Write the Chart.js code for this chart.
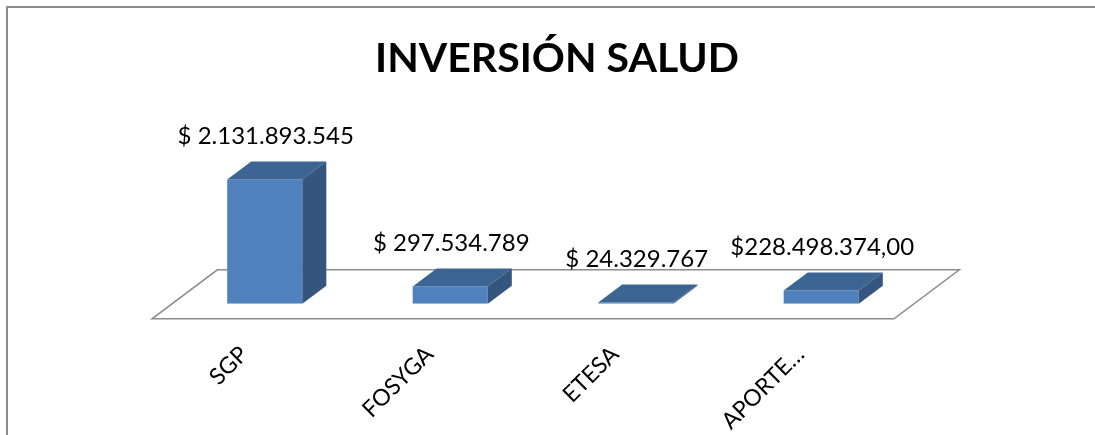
<!DOCTYPE html>
<html>
<head>
<meta charset="utf-8">
<script src="https://cdn.jsdelivr.net/npm/chart.js@4.4.1/dist/chart.umd.min.js"></script>
<style>
  html, body { margin: 0; padding: 0; background: #fff; }
  #wrap { position: relative; width: 1095px; height: 435px; overflow: hidden; }
  #frame { position: absolute; left: 6px; top: 6px; width: 1200px; height: 600px;
           border-top: 2px solid #8c8c8c; border-left: 2px solid #8c8c8c; }
  canvas { position: absolute; left: 0; top: 0; }
</style>
</head>
<body>
<div id="wrap">
  <div id="frame"></div>
  <canvas id="chart" width="1095" height="435"></canvas>
</div>
<script>
// datos del grafico
const titulo = 'INVERSIÓN SALUD';
const categorias = ['SGP', 'FOSYGA', 'ETESA', 'APORTE…'];
const valores = [2131893545, 297534789, 24329767, 228498374];
const etiquetas = ['$ 2.131.893.545', '$ 297.534.789', '$ 24.329.767', '$228.498.374,00'];

// profundidad del efecto 3D
const DX = 24, DY = 18;

// piso, caras laterales de las barras, etiquetas y titulo
const efecto3d = {
    id: 'efecto3d',
    beforeDatasetsDraw(chart) {
        const ctx = chart.ctx;
        const area = chart.chartArea;
        const y0 = chart.scales.y.getPixelForValue(0);
        const k = DX / DY;
        const fr = 15, bk = 34; // hacia delante / hacia atras
        ctx.save();
        ctx.beginPath();
        ctx.moveTo(area.left - fr * k, y0 + fr);
        ctx.lineTo(area.right - fr * k, y0 + fr);
        ctx.lineTo(area.right + bk * k, y0 - bk);
        ctx.lineTo(area.left + bk * k, y0 - bk);
        ctx.closePath();
        ctx.fillStyle = '#ffffff';
        ctx.fill();
        ctx.strokeStyle = '#8c8c8c';
        ctx.lineWidth = 1.5;
        ctx.stroke();
        ctx.restore();
    },
    afterDatasetsDraw(chart) {
        const ctx = chart.ctx;
        const meta = chart.getDatasetMeta(0);
        ctx.save();
        meta.data.forEach((bar, i) => {
            const l = bar.x - bar.width / 2, r = bar.x + bar.width / 2;
            const t = bar.y, b = bar.base;
            // cara superior
            ctx.beginPath();
            ctx.moveTo(l, t);
            ctx.lineTo(r, t);
            ctx.lineTo(r + DX, t - DY);
            ctx.lineTo(l + DX, t - DY);
            ctx.closePath();
            ctx.fillStyle = '#3d6594';
            ctx.fill();
            // cara lateral
            if (b - t > 0.5) {
                ctx.beginPath();
                ctx.moveTo(r, t);
                ctx.lineTo(r + DX, t - DY);
                ctx.lineTo(r + DX, b - DY);
                ctx.lineTo(r, b);
                ctx.closePath();
                ctx.fillStyle = '#34557e';
                ctx.fill();
            }
            // etiqueta de valor
            ctx.fillStyle = '#000';
            ctx.font = '24px Lato';
            ctx.textAlign = 'center';
            ctx.textBaseline = 'middle';
            ctx.fillText(etiquetas[i], bar.x + 1, t - DY - 25);
        });
        // titulo
        ctx.font = 'bold 41px Lato';
        ctx.textAlign = 'center';
        ctx.textBaseline = 'middle';
        ctx.fillText(titulo, 557, 59);
        ctx.restore();
    }
};

new Chart(document.getElementById('chart'), {
    type: 'bar',
    data: {
        labels: categorias,
        datasets: [{
            data: valores,
            backgroundColor: '#4f81bd',
            borderWidth: 0,
            categoryPercentage: 1,
            barPercentage: 0.405
        }]
    },
    options: {
        responsive: false,
        animation: false,
        events: [],
        layout: { padding: { left: 172, right: 181, top: 158, bottom: 0 } },
        plugins: {
            legend: { display: false },
            tooltip: { enabled: false },
            title: { display: false }
        },
        scales: {
            y: { display: false, min: 0, max: 2500000000 },
            x: {
                grid: { display: false, drawTicks: true, tickLength: 16 },
                border: { display: false },
                ticks: {
                    color: '#000',
                    font: { family: 'Lato', size: 23 },
                    minRotation: 45,
                    maxRotation: 45,
                    autoSkip: false,
                    padding: 0,
                    // espacios al final para correr la etiqueta hacia la izquierda
                    callback: function (v, i) { return categorias[i] + '     '; }
                }
            }
        }
    },
    plugins: [efecto3d]
});
</script>
</body>
</html>
